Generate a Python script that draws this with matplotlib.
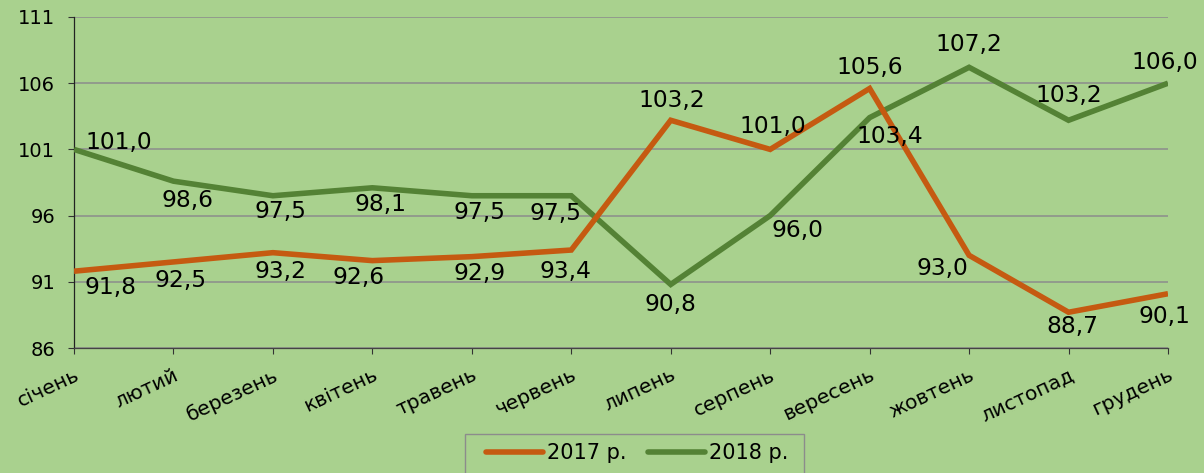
import matplotlib
matplotlib.use("Agg")
import matplotlib.pyplot as plt
from matplotlib.patches import Rectangle

months = ["січень", "лютий", "березень", "квітень", "травень", "червень",
          "липень", "серпень", "вересень", "жовтень", "листопад", "грудень"]
values_2017 = [91.8, 92.5, 93.2, 92.6, 92.9, 93.4, 103.2, 101.0, 105.6, 93.0, 88.7, 90.1]
values_2018 = [101.0, 98.6, 97.5, 98.1, 97.5, 97.5, 90.8, 96.0, 103.4, 107.2, 103.2, 106.0]
series_names = ["2017 р.", "2018 р."]
y_ticks = [86, 91, 96, 101, 106, 111]

# label offsets in pixels (dx, dy; dy positive = up)
off_2017 = [(37, -16), (7, -19), (8, -19), (-14, -17), (8, -17), (-6, -21),
            (1, 20), (3, 23), (0, 21), (-27, -13), (4, -14), (-4, -23)]
off_2018 = [(45, 7), (14, -19), (8, -16), (8, -17), (8, -17), (-16, -18),
            (0, -20), (27, -15), (20, -19), (0, 23), (0, 25), (-3, 21)]

BG = "#A9D18E"
C17 = "#C55A11"
C18 = "#548235"

W, H = 1204, 473
fig = plt.figure(figsize=(W / 100, H / 100), dpi=100, facecolor=BG)
ax = fig.add_axes([74 / W, 1 - 348 / H, (1168 - 74) / W, (348 - 17) / H])
ax.set_facecolor(BG)

x = list(range(len(months)))
l18, = ax.plot(x, values_2018, color=C18, lw=4.0, solid_capstyle="butt", solid_joinstyle="miter", zorder=3)
l17, = ax.plot(x, values_2017, color=C17, lw=4.0, solid_capstyle="butt", solid_joinstyle="miter", zorder=4)

def fmt(v):
    return f"{v:.1f}".replace(".", ",")

for vals, offs in ((values_2017, off_2017), (values_2018, off_2018)):
    for i, (v, (dx, dy)) in enumerate(zip(vals, offs)):
        ax.annotate(fmt(v), (i, v), xytext=(dx * 0.72, dy * 0.72), textcoords="offset points",
                    ha="center", va="center", fontsize=16.8, color="black", zorder=5)

ax.set_xlim(0, len(months) - 1)
ax.set_ylim(y_ticks[0], y_ticks[-1])
ax.set_yticks(y_ticks)
ax.set_xticks(x)
ax.set_xticklabels(months, rotation=25, ha="right", va="top", rotation_mode="anchor", fontsize=14.5)
ax.tick_params(axis="y", labelsize=14, pad=9, length=4.5, width=0.8, color="#333333")
ax.tick_params(axis="x", pad=8, length=4.5, width=0.8, color="#333333")
ax.grid(axis="y", color="#8c8c8c", lw=1.1, zorder=1)
ax.set_axisbelow(True)
for s in ("top", "right"):
    ax.spines[s].set_visible(False)
ax.spines["left"].set_color("#222222")
ax.spines["left"].set_linewidth(0.9)
ax.spines["bottom"].set_color("#444444")
ax.spines["bottom"].set_linewidth(0.9)

# legend frame
fig.patches.append(Rectangle((465 / W, -0.02), (804 - 465) / W, 1 - 434 / H + 0.02,
                             transform=fig.transFigure, facecolor=BG, edgecolor="#8c8c8c",
                             lw=1.0, zorder=0))
leg = fig.legend([l17, l18], series_names, loc="center left",
                 bbox_to_anchor=(486 / W, 1 - 453 / H), ncol=2, fontsize=15,
                 frameon=False, handlelength=2.75, handletextpad=0.2, columnspacing=1.0,
                 borderpad=0, borderaxespad=0)
for h in leg.get_lines():
    h.set_solid_capstyle("round")

fig.savefig("out.png", dpi=100, facecolor=BG)
